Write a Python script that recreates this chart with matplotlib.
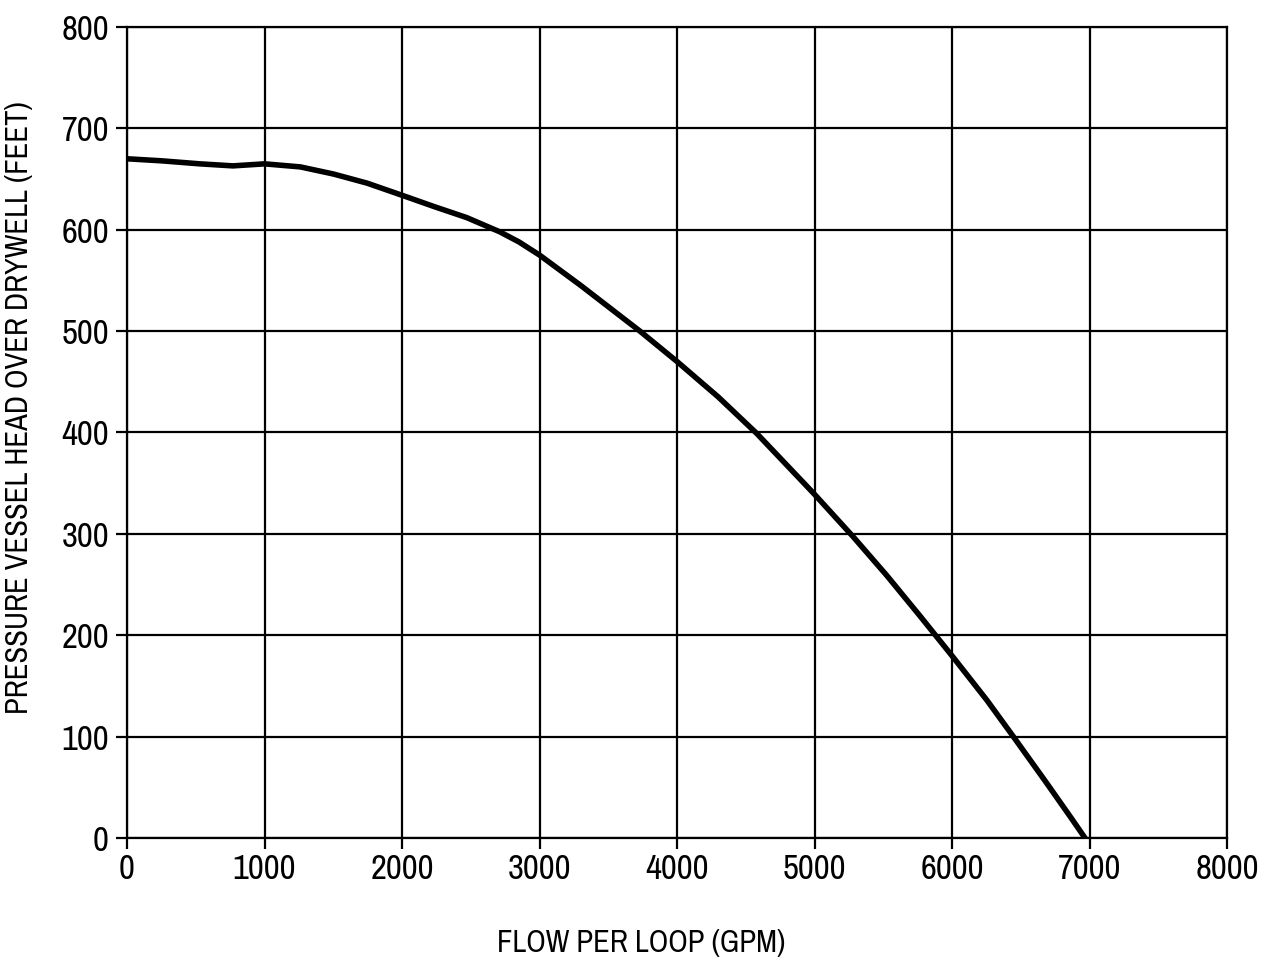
import matplotlib
matplotlib.use("Agg")
import matplotlib.pyplot as plt
from matplotlib import font_manager

# Pump head curve: flow per loop (GPM) vs. head (feet)
flow_gpm = [0, 250, 530, 770, 1000, 1260, 1500, 1745, 2000, 2230, 2470, 2710,
            2850, 3000, 3300, 3730, 4000, 4300, 4580, 5000, 5282, 5525,
            5767, 6010, 6253, 6446, 6689, 6860, 6967]
head_ft = [670, 668, 665, 663, 665, 662, 655, 646, 634, 623, 612, 598,
           588, 575, 545, 500, 470, 435, 399, 339, 297, 259,
           219, 178, 136, 100, 54, 21, 0]

x_ticks = [0, 1000, 2000, 3000, 4000, 5000, 6000, 7000, 8000]
y_ticks = [0, 100, 200, 300, 400, 500, 600, 700, 800]

x_label = "FLOW PER LOOP (GPM)"
y_label = "PRESSURE VESSEL HEAD OVER DRYWELL (FEET)"

installed = sorted({f.name for f in font_manager.fontManager.ttflist})
narrow = [n for n in installed if "Narrow" in n or "Condensed" in n]
family = narrow[:1] + ["DejaVu Sans"]
plt.rcParams["font.family"] = family
plt.rcParams["font.stretch"] = "condensed"

fig = plt.figure(figsize=(12.68, 9.64), dpi=100)
ax = fig.add_axes([0.1002, 0.1307, 0.8675, 0.8413])

ax.plot(flow_gpm, head_ft, color="black", lw=4.0, solid_joinstyle="round",
        zorder=3)

ax.set_xlim(0, 8000)
ax.set_ylim(0, 800)
ax.set_xticks(x_ticks)
ax.set_yticks(y_ticks)
ax.set_xticklabels([str(v) for v in x_ticks])
ax.set_yticklabels([str(v) for v in y_ticks])
ax.grid(True, color="black", lw=1.6)
for s in ax.spines.values():
    s.set_linewidth(1.6)
ax.tick_params(axis="both", direction="out", length=8, width=1.6,
               labelsize=25, colors="black")
ax.tick_params(axis="x", pad=3)
ax.tick_params(axis="y", pad=5)

ax.set_xlabel(x_label, fontsize=22)
ax.set_ylabel(y_label, fontsize=22)
ax.xaxis.set_label_coords(0.467, -0.112)
ax.yaxis.set_label_coords(-0.0855, 0.531)

fig.savefig("out.png", dpi=100, facecolor="white")
